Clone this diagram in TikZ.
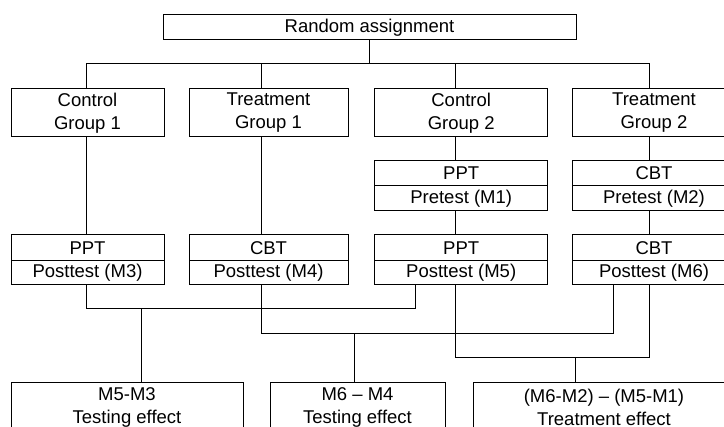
\documentclass[tikz,border=0pt]{standalone}
\usepackage{fontspec}
\setmainfont{Liberation Sans}
\begin{document}
\begin{tikzpicture}[x=1pt,y=-1pt,
  box/.style={draw,line width=1pt,inner sep=0pt,align=center,font=\fontsize{18.5}{23}\selectfont},
  ln/.style={line width=1pt}]
\useasboundingbox (0,0) rectangle (724,427);
\clip (0,0) rectangle (724,427);
\fill[white] (0,0) rectangle (724,427);
% column coordinates
\coordinate (L1) at (86,0);
\coordinate (L2) at (261,0);
\coordinate (L3) at (455,0);
\coordinate (L4) at (649,0);
\coordinate (La) at (415,0);
\coordinate (Lb) at (613,0);
\coordinate (D1) at (141,0);
\coordinate (D2) at (354,0);
\coordinate (D3) at (575,0);
\coordinate (B1) at (0,309);
\coordinate (B2) at (0,334);
\coordinate (B3) at (0,358);
\coordinate (Bt) at (0,64);
% top
\node[box,minimum width=413pt,minimum height=25pt] (top) at (369.5,27.5) {Random assignment};
% groups
\node[box,minimum width=153pt,minimum height=48pt] (cg1) at (87.5,113) {Control\\Group 1};
\node[box,minimum width=159pt,minimum height=48pt] (tg1) at (268.5,113) {Treatment\\Group 1};
\node[box,minimum width=173pt,minimum height=48pt] (cg2) at (461.2,113) {Control\\Group 2};
\node[box,minimum width=164pt,minimum height=48pt] (tg2) at (654,113) {Treatment\\Group 2};
% pretests
\node[box,minimum width=173pt,minimum height=25pt] (pre3a) at (461.2,173.5) {PPT};
\node[box,minimum width=173pt,minimum height=25pt] (pre3b) at (461.2,198.5) {Pretest (M1)};
\node[box,minimum width=164pt,minimum height=25pt] (pre4a) at (654,173.5) {CBT};
\node[box,minimum width=164pt,minimum height=25pt] (pre4b) at (654,198.5) {Pretest (M2)};
% posttests
\node[box,minimum width=153pt,minimum height=26pt] (post1a) at (87.5,248) {PPT};
\node[box,minimum width=153pt,minimum height=24pt] (post1b) at (87.5,273) {Posttest (M3)};
\node[box,minimum width=159pt,minimum height=26pt] (post2a) at (268.5,248) {CBT};
\node[box,minimum width=159pt,minimum height=24pt] (post2b) at (268.5,273) {Posttest (M4)};
\node[box,minimum width=173pt,minimum height=26pt] (post3a) at (461.2,248) {PPT};
\node[box,minimum width=173pt,minimum height=24pt] (post3b) at (461.2,273) {Posttest (M5)};
\node[box,minimum width=164pt,minimum height=26pt] (post4a) at (654,248) {CBT};
\node[box,minimum width=164pt,minimum height=24pt] (post4b) at (654,273) {Posttest (M6)};
% effects
\node[box,minimum width=232pt,minimum height=48pt] (eff1) at (127,407) {M5-M3\\Testing effect};
\node[box,minimum width=175pt,minimum height=48pt] (eff2) at (357.5,407) {M6 – M4\\Testing effect};
\node[box,minimum width=262pt,minimum height=48pt] (eff3) at (604,407) {(M6-M2) – (M5-M1)\\Treatment effect};
% top bus
\draw[ln] (top.south) -- (top.south |- Bt);
\draw[ln] (cg1.north -| L1) -- (Bt -| L1) -- (Bt -| L4) -- (tg2.north -| L4);
\draw[ln] (tg1.north -| L2) -- (Bt -| L2);
\draw[ln] (cg2.north -| L3) -- (Bt -| L3);
% vertical links
\draw[ln] (cg1.south -| L1) -- (post1a.north -| L1);
\draw[ln] (tg1.south -| L2) -- (post2a.north -| L2);
\draw[ln] (cg2.south -| L3) -- (pre3a.north -| L3);
\draw[ln] (pre3b.south -| L3) -- (post3a.north -| L3);
\draw[ln] (tg2.south -| L4) -- (pre4a.north -| L4);
\draw[ln] (pre4b.south -| L4) -- (post4a.north -| L4);
% bottom connectors
\draw[ln] (post1b.south -| L1) -- (B1 -| L1) -- (B1 -| La) -- (post3b.south -| La);
\draw[ln] (eff1.north -| D1) -- (B1 -| D1);
\draw[ln] (post2b.south -| L2) -- (B2 -| L2) -- (B2 -| Lb) -- (post4b.south -| Lb);
\draw[ln] (eff2.north -| D2) -- (B2 -| D2);
\draw[ln] (post3b.south -| L3) -- (B3 -| L3) -- (B3 -| L4) -- (post4b.south -| L4);
\draw[ln] (eff3.north -| D3) -- (B3 -| D3);
\end{tikzpicture}
\end{document}
